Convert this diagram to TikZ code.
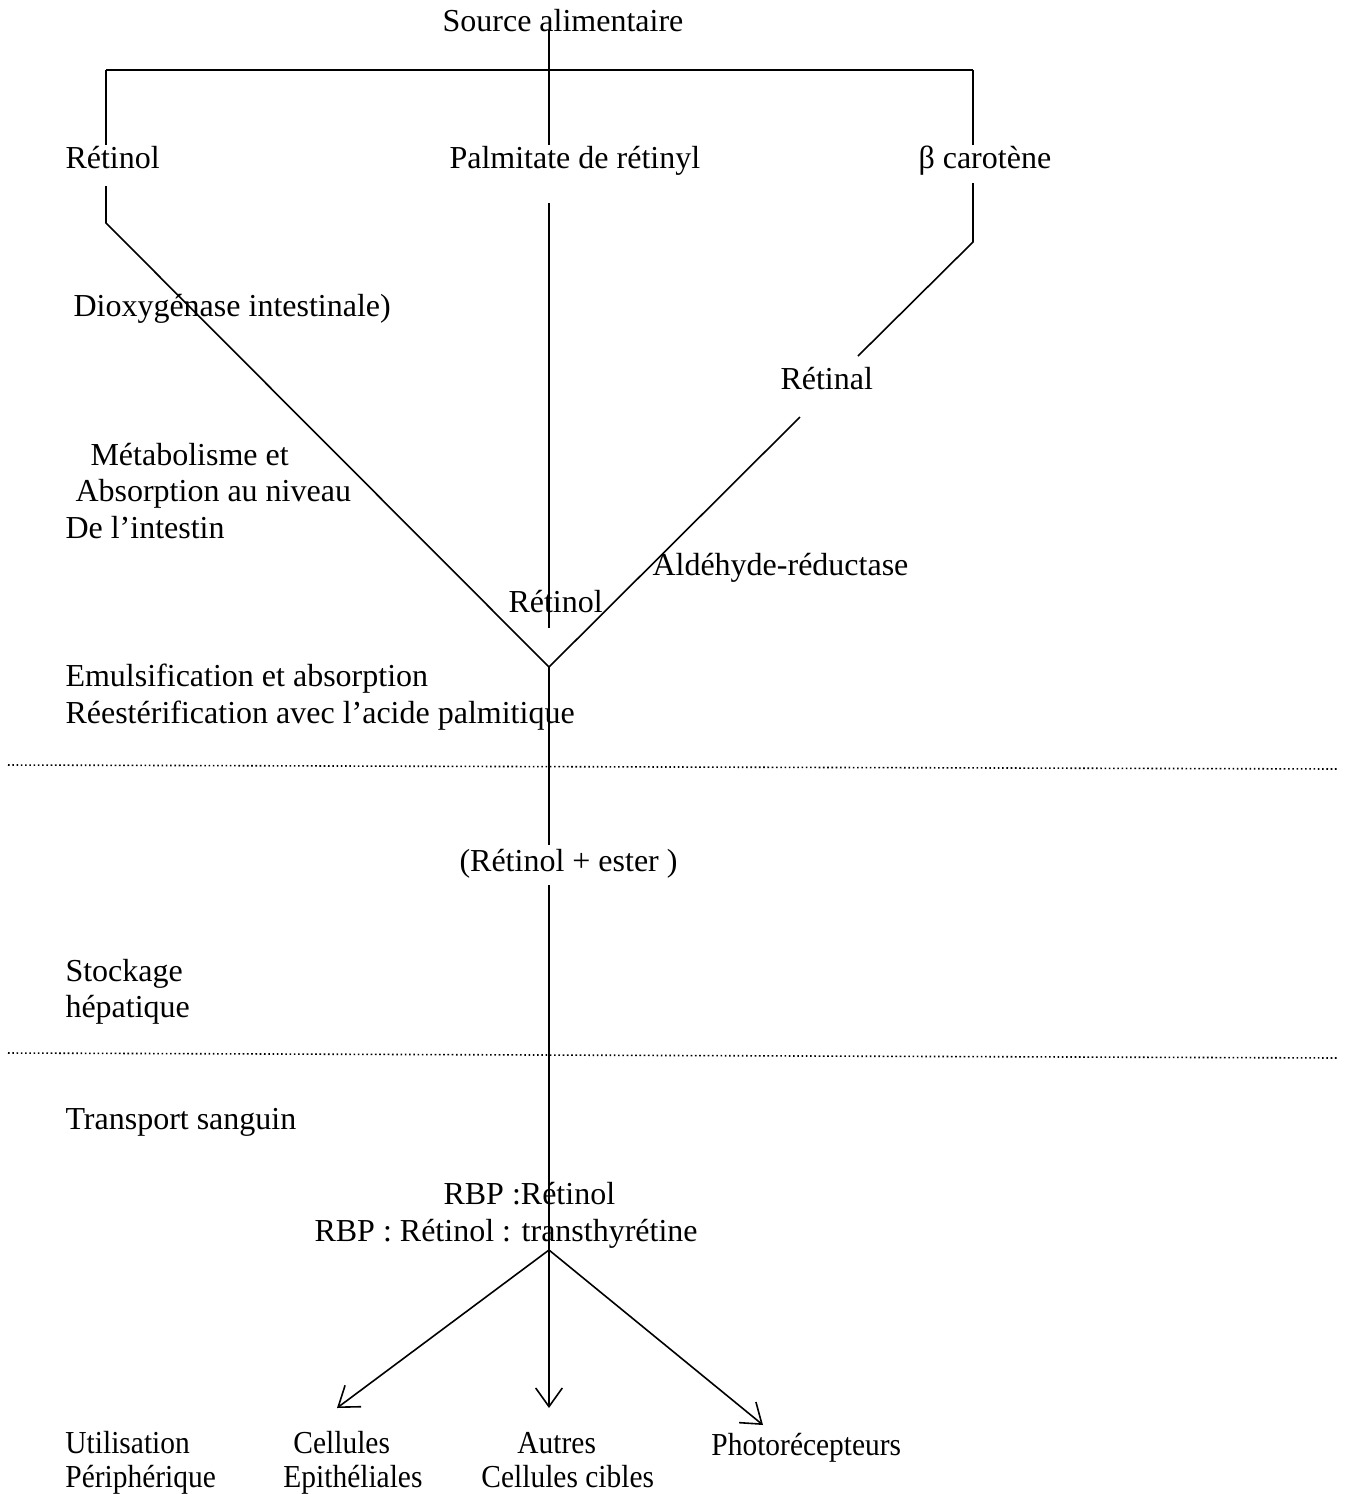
\documentclass[tikz,border=0pt]{standalone}
\usepackage{fontspec}
\setmainfont{Liberation Serif}
\usetikzlibrary{arrows.meta}
\tikzset{%
  lbl/.style    = {inner sep=0pt, font=\fontsize{12}{14}\selectfont},%
  lbase/.style  = {lbl, anchor=base west},%
  lbot/.style   = {lbase, xscale=0.92},%
  flow/.style   = {line width=0.6pt},%
  sep/.style    = {densely dotted, line width=0.6pt},%
  branch/.style = {flow, -{Straight Barb[length=7pt,width=10pt,line width=0.6pt]}}%
}
\begin{document}
\begin{tikzpicture}[x=0.375pt, y=-0.375pt]%
	\useasboundingbox (0,0) rectangle (1347,1494);%
	% labels
	\node[lbl, anchor=base] (src) at (563,31) {Source alimentaire};%
	\node[lbase] (ret)    at (65,168)   {Rétinol};%
	\node[lbase] (palm)   at (449,168)  {Palmitate de rétinyl};%
	\node[lbase] (beta)   at (918,168)  {β carotène};%
	\node[lbase] (dioxy)  at (73,316)   {Dioxygénase intestinale)};%
	\node[lbase] (retal)  at (780,389)  {Rétinal};%
	\node[lbase] (metab)  at (90,465)   {Métabolisme et};%
	\node[lbase] (absn)   at (75,501)   {Absorption au niveau};%
	\node[lbase] (intest) at (65,538)   {De l’intestin};%
	\node[lbase] (aldred) at (652,575)  {Aldéhyde-réductase};%
	\node[lbase] (retc)   at (508,612)  {Rétinol};%
	\node[lbase] (emul)   at (65,686)   {Emulsification et absorption};%
	\node[lbase] (reest)  at (65,723)   {Réestérification avec l’acide palmitique};%
	\node[lbase] (ester)  at (459,871)  {(Rétinol + ester )};%
	\node[lbase] (stock)  at (65,981)   {Stockage};%
	\node[lbase] (hepat)  at (65,1017)  {hépatique};%
	\node[lbase] (transp) at (65,1129)  {Transport sanguin};%
	\node[lbase] (rbpa)   at (443,1204) {RBP :Rétinol};%
	\node[lbase] (rbpb)   at (314,1241) {RBP : Rétinol : transthyrétine};%
	\node[lbot] (util)    at (65,1453)  {Utilisation};%
	\node[lbot] (peri)    at (65,1487)  {Périphérique};%
	\node[lbot] (cell)    at (293,1453) {Cellules};%
	\node[lbot] (epi)     at (283,1487) {Epithéliales};%
	\node[lbot] (autr)    at (517,1453) {Autres};%
	\node[lbot] (cib)     at (481,1487) {Cellules cibles};%
	\node[lbot] (photo)   at (711,1455) {Photorécepteurs};%
	% break points of the lines
	\coordinate (srcin) at (549,30);%
	\coordinate (tl) at (106,70);%
	\coordinate (tr) at (973,70);%
	\coordinate (l1) at (106,145);%
	\coordinate (l2) at (106,186);%
	\coordinate (lk) at (106,223);%
	\coordinate (c1) at (549,145);%
	\coordinate (c2) at (549,203);%
	\coordinate (c3) at (549,628);%
	\coordinate (r1) at (973,145);%
	\coordinate (r2) at (973,183);%
	\coordinate (rk) at (973,242);%
	\coordinate (r3) at (858,356);%
	\coordinate (r4) at (800,417);%
	\coordinate (apex) at (549,667);%
	\coordinate (c4) at (549,845);%
	\coordinate (c5) at (549,885);%
	\coordinate (fork) at (549,1250);%
	\coordinate (ea) at (337,1408);%
	\coordinate (eb) at (549,1408);%
	\coordinate (ec) at (763,1425);%
	% lines
	\draw[flow] (tl) -- (tr);%
	\draw[flow] (srcin) -- (c1);%
	\draw[flow] (tl) -- (l1);%
	\draw[flow] (l2) -- (lk) -- (apex);%
	\draw[flow] (c2) -- (c3);%
	\draw[flow] (tr) -- (r1);%
	\draw[flow] (r2) -- (rk) -- (r3);%
	\draw[flow] (r4) -- (apex);%
	\draw[flow] (apex) -- (c4);%
	\draw[flow] (c5) -- (fork);%
	\draw[branch] (fork) -- (ea);%
	\draw[branch] (fork) -- (eb);%
	\draw[branch] (fork) -- (ec);%
	% dotted separators
	\draw[sep] (8,765) -- (1338,769);%
	\draw[sep] (8,1053) -- (1338,1058);%
\end{tikzpicture}
\end{document}
